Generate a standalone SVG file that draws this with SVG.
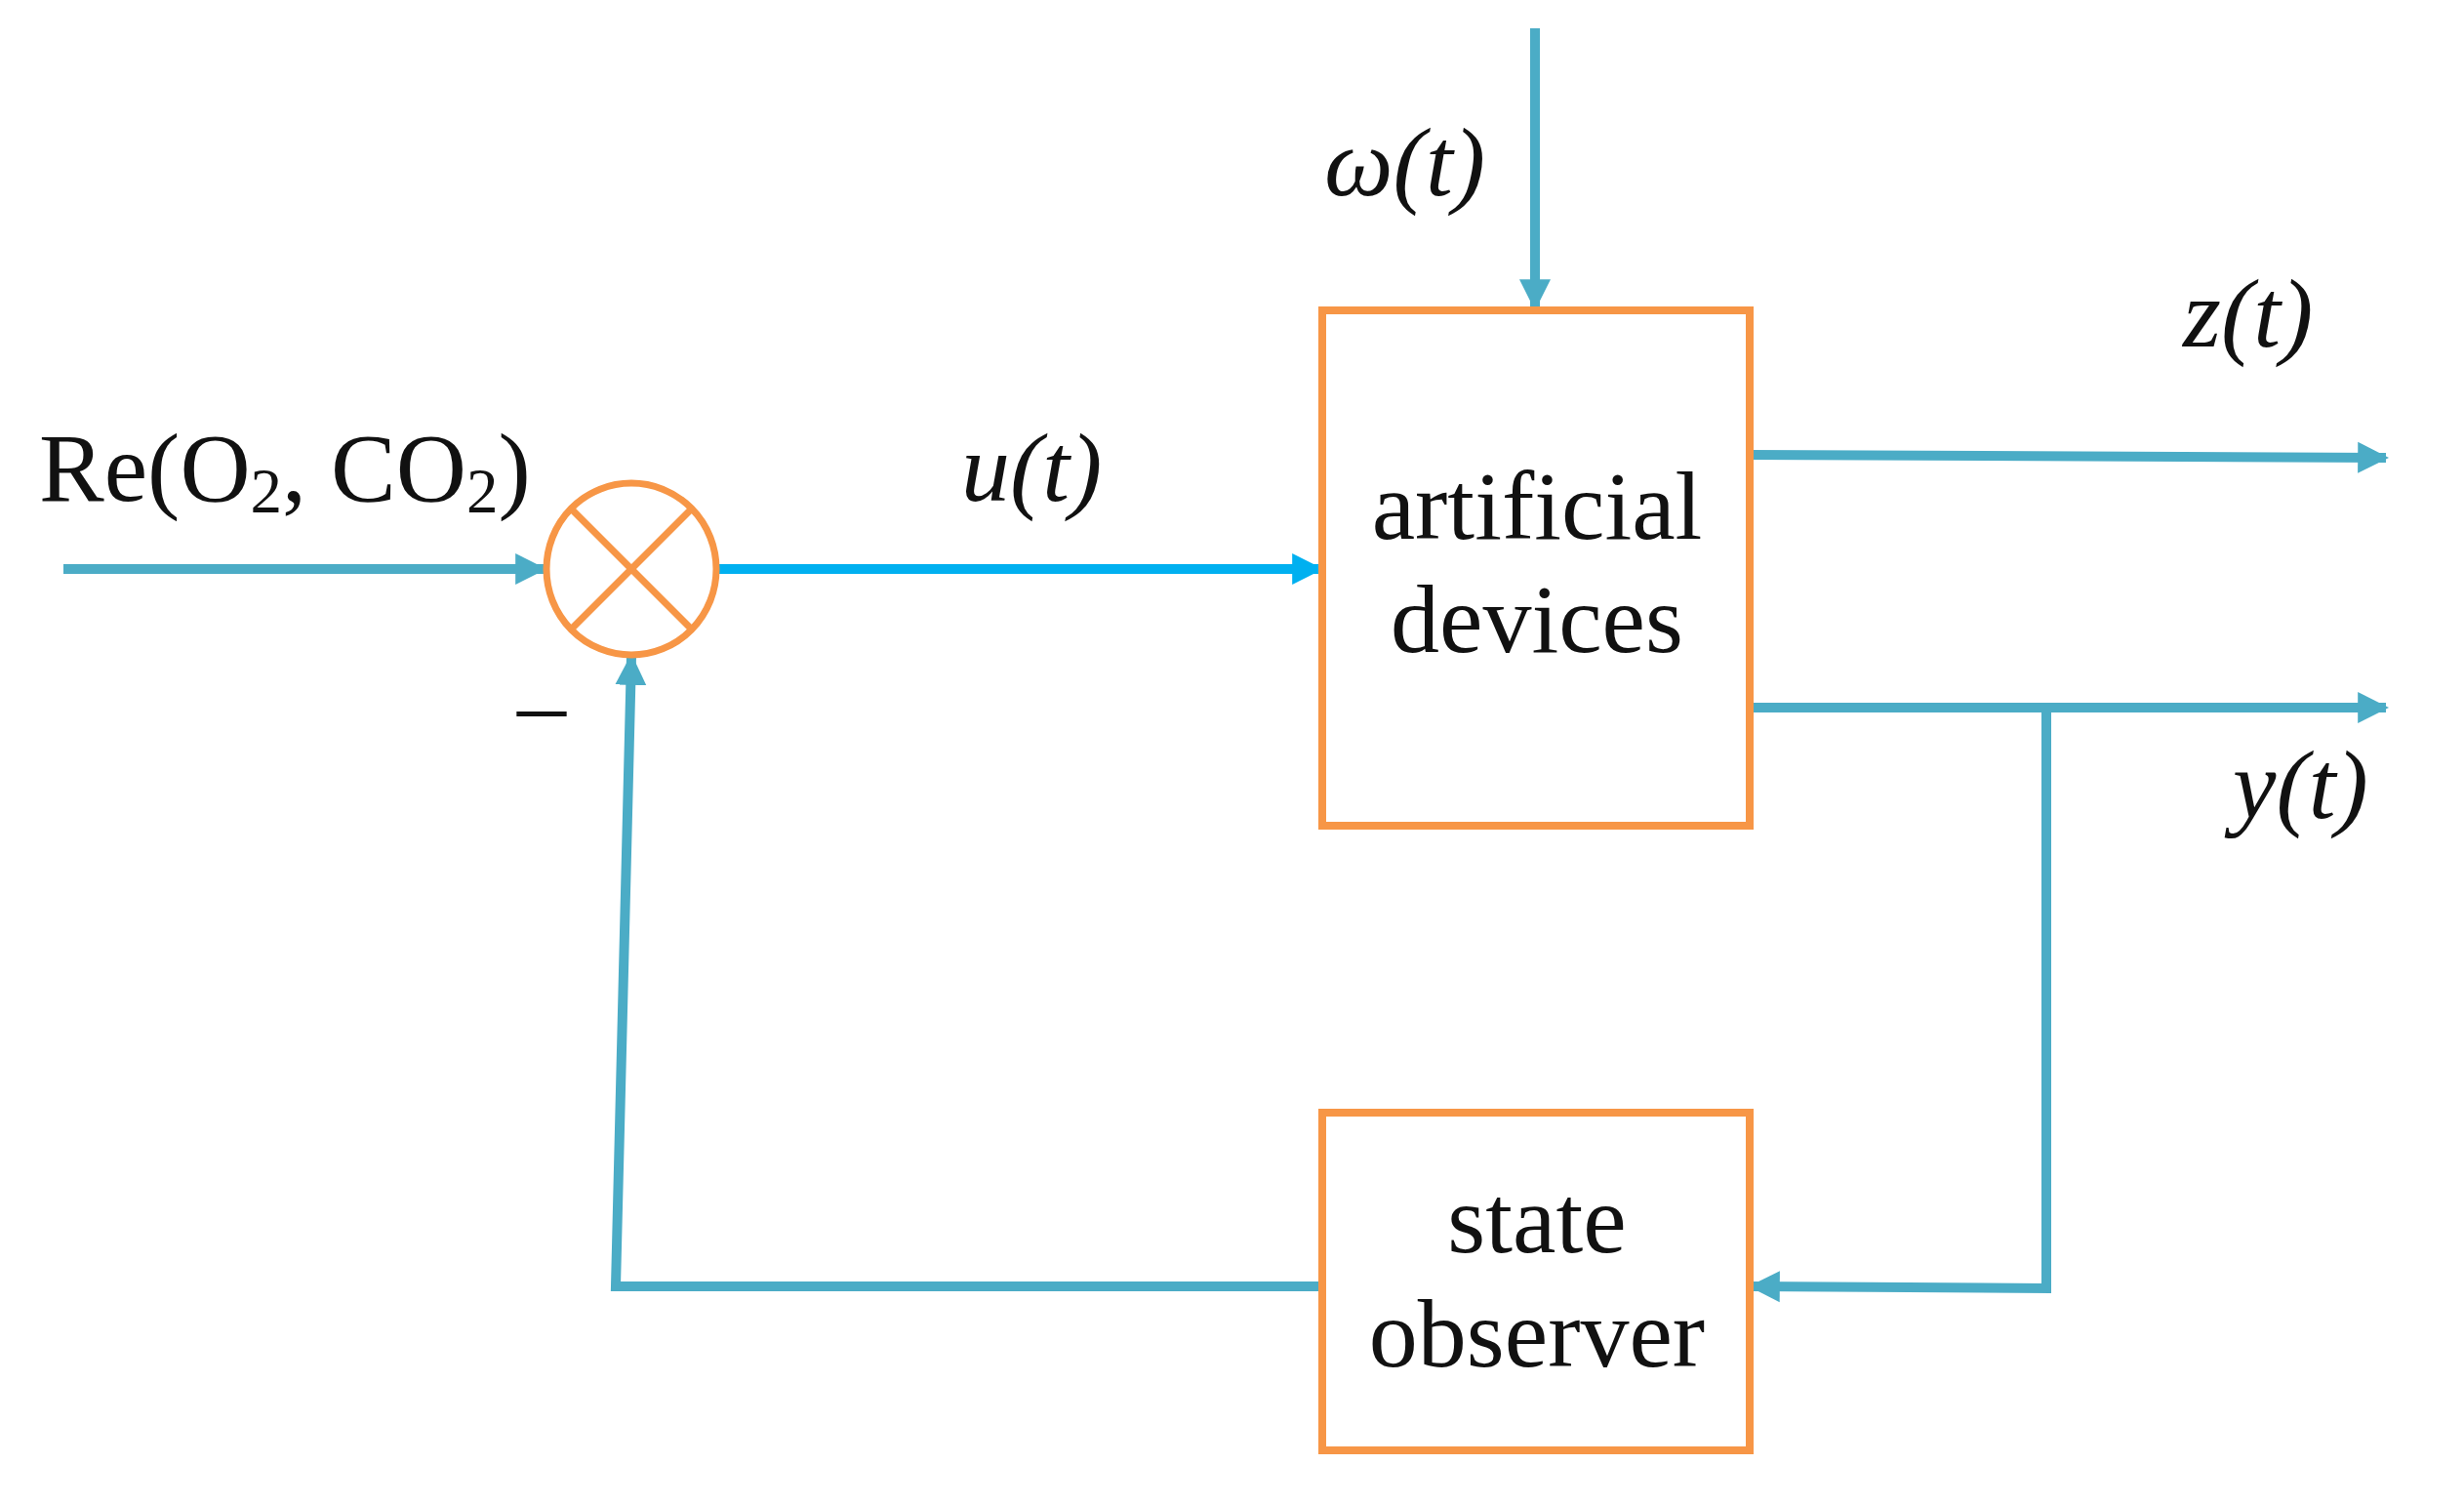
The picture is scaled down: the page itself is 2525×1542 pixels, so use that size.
<svg xmlns="http://www.w3.org/2000/svg" width="2525" height="1542" viewBox="0 0 2525 1542">
<style>
.box{fill:#fff;stroke:#f79646;stroke-width:8}
.ln{fill:none;stroke:#4bacc6;stroke-width:10}
.t{font-family:"Liberation Serif",serif;font-size:100px;fill:#111}
.i{font-style:italic}
</style>
<defs>
<marker id="a" viewBox="0 0 10 10" refX="9" refY="5" markerWidth="3.2" markerHeight="4" orient="auto" markerUnits="strokeWidth"><path d="M0,0L10,5L0,10z" fill="#4bacc6"/></marker>
<marker id="b" viewBox="0 0 10 10" refX="9" refY="5" markerWidth="3.2" markerHeight="4" orient="auto" markerUnits="strokeWidth"><path d="M0,0L10,5L0,10z" fill="#00b0f0"/></marker>
</defs>
<g id="connectors">
<line class="ln" x1="65" y1="583" x2="557" y2="583" marker-end="url(#a)"/>
<line class="ln" x1="735" y1="583" x2="1353" y2="583" style="stroke:#00b0f0" marker-end="url(#b)"/>
<line class="ln" x1="1573" y1="29" x2="1573" y2="315" marker-end="url(#a)"/>
<line class="ln" x1="1793" y1="466" x2="2445" y2="469" marker-end="url(#a)"/>
<line class="ln" x1="1793" y1="725" x2="2445" y2="725" marker-end="url(#a)"/>
<polyline class="ln" points="2097,725 2097,1320 1795,1318" marker-end="url(#a)"/>
<polyline class="ln" points="1358,1318 631,1318 647,673" marker-end="url(#a)"/>
</g>
<g id="sum">
<ellipse cx="647" cy="583" rx="87" ry="88" fill="#fff" stroke="#f79646" stroke-width="7"/>
<line x1="585" y1="521" x2="709" y2="645" stroke="#f79646" stroke-width="7"/>
<line x1="709" y1="521" x2="585" y2="645" stroke="#f79646" stroke-width="7"/>
</g>
<g id="artificial">
<rect class="box" x="1355" y="318" width="438" height="528"/>
<text class="t" x="1575" y="552" text-anchor="middle">artificial</text>
<text class="t" x="1575" y="668" text-anchor="middle">devices</text>
</g>
<g id="observer">
<rect class="box" x="1355" y="1140" width="438" height="346"/>
<text class="t" x="1575" y="1283" text-anchor="middle">state</text>
<text class="t" x="1575" y="1400" text-anchor="middle">observer</text>
</g>
<g id="labels">
<text class="t" x="40" y="513">Re(O<tspan font-size="65" dy="12">2</tspan><tspan dy="-12">, CO</tspan><tspan font-size="65" dy="12">2</tspan><tspan dy="-12">)</tspan></text>
<text class="t i" x="985" y="513">u(t)</text>
<text class="t i" x="1357" y="200">ω(t)</text>
<text class="t i" x="2237" y="355">z(t)</text>
<text class="t i" x="2288" y="838">y(t)</text>
<text class="t" x="530" y="755">–</text>
</g>
</svg>
